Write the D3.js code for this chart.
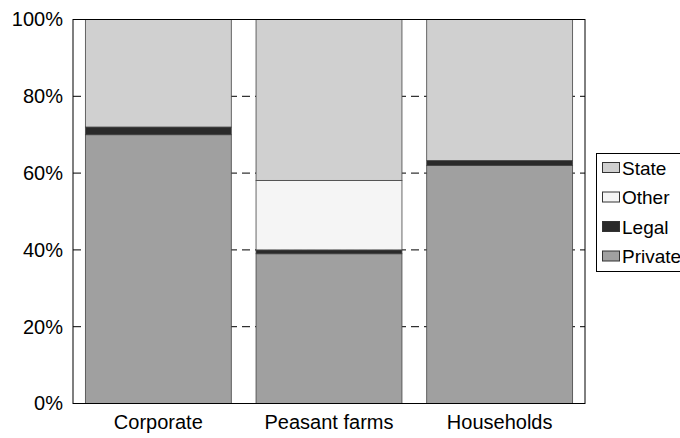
<!DOCTYPE html>
<html><head><meta charset="utf-8">
<script src="https://cdn.jsdelivr.net/npm/d3@7"></script>
<style>body{margin:0;background:#fff}svg{display:block}text{font-family:"Liberation Sans",Arial,sans-serif;fill:#000}</style>
</head><body><svg id="c" width="680" height="438"></svg>
<script>
const categories = ["Corporate", "Peasant farms", "Households"];
const seriesNames = ["Private", "Legal", "Other", "State"];
const privateVals = [70, 39, 62];
const legalVals = [2, 1, 1.3];
const otherVals = [0, 18.1, 0];
const stateVals = [28, 41.9, 36.7];
const yTicks = [0, 20, 40, 60, 80, 100];
const legendItems = ["State", "Other", "Legal", "Private"];
const colors = {Private: "#a0a0a0", Legal: "#2a2a2a", Other: "#f5f5f5", State: "#d0d0d0"};

const rows = categories.map((c, i) => ({cat: c, Private: privateVals[i], Legal: legalVals[i], Other: otherVals[i], State: stateVals[i]}));
const stack = d3.stack().keys(seriesNames)(rows);

const svg = d3.select("#c");
const L = 73, R = 585, T = 19.5, B = 403.5;
const x = d3.scaleBand().domain(categories).range([L, R]).paddingInner(0.145).paddingOuter(0.0725);
const y = d3.scaleLinear().domain([0, 100]).range([B, T]);

// dashed gridlines
svg.append("g").selectAll("line").data(yTicks.filter(t => t > 0 && t < 100)).join("line")
  .attr("x1", L).attr("x2", R).attr("y1", d => y(d)).attr("y2", d => y(d))
  .attr("stroke", "#000").attr("stroke-width", 1).attr("stroke-dasharray", "8,5");

// bars
svg.append("g").selectAll("g").data(stack).join("g")
  .attr("fill", d => colors[d.key])
  .selectAll("rect").data(d => d).join("rect")
  .attr("x", d => x(d.data.cat)).attr("width", x.bandwidth())
  .attr("y", d => y(d[1])).attr("height", d => y(d[0]) - y(d[1]))
  .attr("stroke", "#444").attr("stroke-width", 0.8);

// frame
svg.append("rect").attr("x", L).attr("y", T).attr("width", R - L).attr("height", B - T)
  .attr("fill", "none").attr("stroke", "#000").attr("stroke-width", 1);

// y axis labels
const yAxis = d3.axisLeft(y).tickValues(yTicks).tickFormat(d => d + "%").tickSize(0).tickPadding(10);
const ga = svg.append("g").attr("transform", `translate(${L},0)`).call(yAxis);
ga.select(".domain").remove();
ga.selectAll("text").attr("font-size", 20).attr("font-family", "Liberation Sans, Arial, sans-serif").attr("fill", "#000");

// x axis labels
const xAxis = d3.axisBottom(x).tickSize(0).tickPadding(11);
const gx = svg.append("g").attr("transform", `translate(0,${B})`).call(xAxis);
gx.select(".domain").remove();
gx.selectAll("text").attr("font-size", 20).attr("font-family", "Liberation Sans, Arial, sans-serif").attr("fill", "#000");

// legend
const lg = svg.append("g");
lg.append("rect").attr("x", 596.5).attr("y", 153.5).attr("width", 100).attr("height", 118)
  .attr("fill", "#fff").attr("stroke", "#000");
const li = lg.selectAll("g").data(legendItems).join("g")
  .attr("transform", (d, i) => `translate(602,${168 + i * 29.5})`);
li.append("rect").attr("x", 0.5).attr("y", -5.5).attr("width", 17).attr("height", 10)
  .attr("fill", d => colors[d]).attr("stroke", "#333");
li.append("text").attr("x", 20).attr("y", 0).attr("dy", "0.35em").attr("font-size", 19).text(d => d);
</script></body></html>
